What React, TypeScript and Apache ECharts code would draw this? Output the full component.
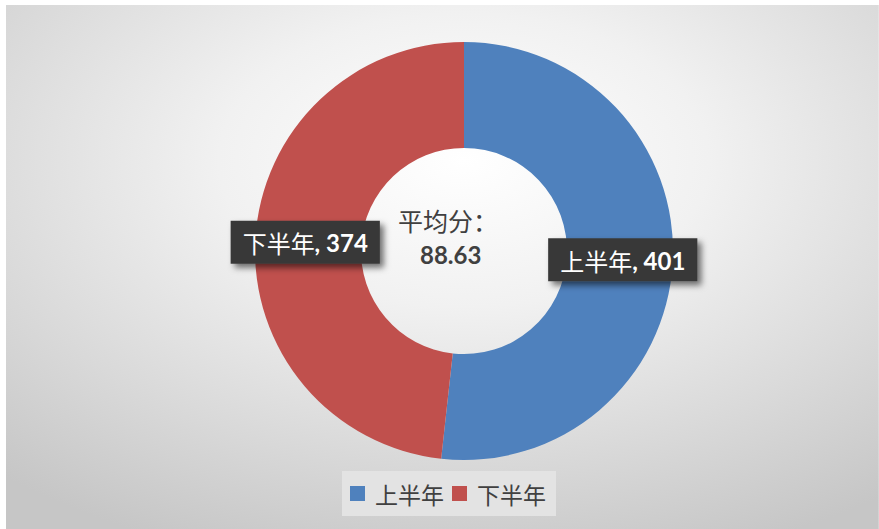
import React, { useEffect, useRef } from "react";
import * as echarts from "echarts";

const categories = ["上半年", "下半年"];
const values = [401, 374];
const colors = ["#4F81BD", "#C0504D"];
const centerTitle = "平均分：";
const centerValue = "88.63";

export default function App() {
  const ref = useRef<HTMLDivElement>(null);
  useEffect(() => {
    if (!ref.current) return;
    const chart = echarts.init(ref.current, null, { renderer: "svg" });
    const bgW = 873 * (420 / 560);
    chart.setOption({
      animation: false,
      backgroundColor: "#ffffff",
      graphic: [
        {
          type: "rect",
          x: 6,
          y: 5,
          scaleX: 560 / 420,
          z: -10,
          silent: true,
          shape: { x: 0, y: 0, width: bgW, height: 524 },
          style: {
            fill: new echarts.graphic.RadialGradient(
              (464 - 6) / 873,
              (160 - 5) / 524,
              420 / 524,
              [
                { offset: 0, color: "#ffffff" },
                { offset: 0.35, color: "#f1f1f1" },
                { offset: 0.7, color: "#dadada" },
                { offset: 1, color: "#c6c6c6" },
              ]
            ),
          },
        },
        {
          type: "text",
          x: 398,
          y: 220,
          z: 10,
          style: {
            text: centerTitle,
            fontSize: 25,
            fontFamily: "Noto Sans CJK SC",
            fill: "#404040",
            align: "left",
            verticalAlign: "middle",
          },
        },
        {
          type: "text",
          x: 420,
          y: 254,
          z: 10,
          style: {
            text: centerValue,
            fontSize: 24,
            fontWeight: "bold",
            fontFamily: "Lato",
            fill: "#404040",
            align: "left",
            verticalAlign: "middle",
          },
        },
      ],
      legend: {
        data: categories,
        left: 342,
        top: 471,
        padding: [10, 10, 10, 8],
        itemWidth: 15,
        itemHeight: 15,
        itemGap: 8,
        icon: "rect",
        backgroundColor: "#e3e3e3",
        selectedMode: false,
        textStyle: {
          fontSize: 23,
          lineHeight: 25,
          color: "#404040",
          fontFamily: "Noto Sans CJK SC",
          padding: [0, 0, 0, 5],
        },
      },
      series: [
        {
          type: "pie",
          center: [464, 251],
          radius: [103, 209],
          startAngle: 90,
          clockwise: true,
          silent: true,
          labelLine: { show: false },
          emphasis: { disabled: true },
          data: categories.map((c, i) => ({
            name: c,
            value: values[i],
            itemStyle: { color: colors[i] },
          })),
          label: {
            show: true,
            position: "inside",
            formatter: (p: any) => `{a|${p.name}}{b|, ${p.value}}`,
            backgroundColor: "#393939",
            padding: [8, 12, 7, 12],
            shadowColor: "rgba(0,0,0,0.55)",
            shadowBlur: 6,
            shadowOffsetX: 4,
            shadowOffsetY: 4,
            rich: {
              a: {
                fontSize: 24,
                lineHeight: 28,
                color: "#ffffff",
                fontFamily: "Noto Sans CJK SC",
              },
              b: {
                fontSize: 24,
                lineHeight: 28,
                color: "#ffffff",
                fontWeight: "bold",
                fontFamily: "Lato",
              },
            },
          },
        },
      ],
    });
    return () => chart.dispose();
  }, []);
  return (
    <div
      ref={ref}
      style={{ position: "fixed", left: 0, top: 0, width: 879, height: 529 }}
    />
  );
}
